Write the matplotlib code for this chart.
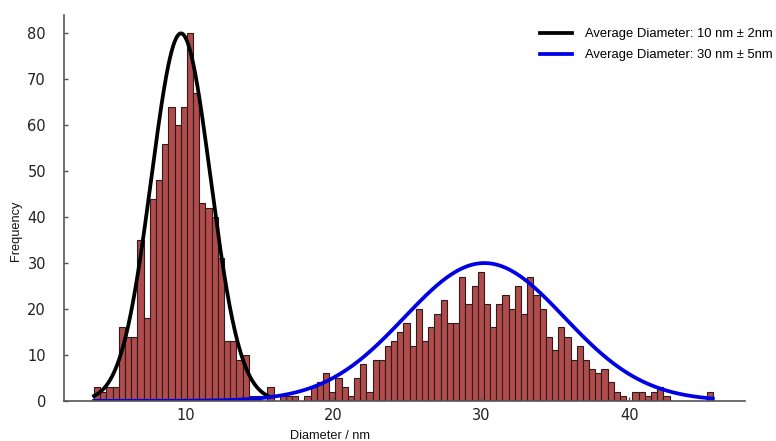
import numpy as np
import matplotlib
matplotlib.use("Agg")
import matplotlib.pyplot as plt

# histogram counts, 100 equal bins between the smallest and largest diameter
counts = [3, 2, 3, 3, 16, 14, 14, 35, 18, 44,
          48, 56, 64, 60, 64, 80, 67, 43, 42, 40,
          31, 13, 13, 9, 10, 1, 1, 0, 3, 0,
          1, 1, 1, 0, 1, 3, 4, 6, 2, 5,
          3, 1, 5, 8, 2, 9, 9, 12, 13, 15,
          17, 12, 20, 13, 16, 19, 22, 17, 17, 27,
          21, 25, 28, 21, 16, 21, 23, 20, 25, 19,
          27, 23, 20, 14, 11, 16, 14, 9, 12, 9,
          7, 6, 7, 4, 2, 1, 0, 2, 2, 1,
          2, 3, 1, 0, 0, 0, 0, 0, 0, 2]
d_min, d_max = 3.83, 45.63

# fitted gaussians: (mean, sigma, peak height)
small_fit = (9.7, 2.0, 80)
large_fit = (30.2, 5.4, 30)
labels = ["Average Diameter: 10 nm \u00b1 2nm", "Average Diameter: 30 nm \u00b1 5nm"]


def gauss(x, mu, sig, amp):
    return amp * np.exp(-(x - mu) ** 2 / (2 * sig ** 2))


edges = np.linspace(d_min, d_max, len(counts) + 1)
widths = np.diff(edges)

fig = plt.figure(figsize=(7.76, 4.41), dpi=100)
ax = fig.add_axes([0.0825, 0.091, 0.8775, 0.875])

ax.bar(edges[:-1], counts, width=widths, align="edge",
       color="#b04c4c", edgecolor="#2e1c1c", linewidth=0.8)

x1 = np.linspace(d_min, small_fit[0] + 3 * small_fit[1], 300)
x2 = np.linspace(d_min, d_max, 400)
ax.plot(x1, gauss(x1, *small_fit), color="black", lw=2.7, label=labels[0])
ax.plot(x2, gauss(x2, *large_fit), color="#0000e6", lw=2.7, label=labels[1])

ax.set_xlim(1.8, 47.8)
ax.set_ylim(0, 84)
ax.set_xticks([10, 20, 30, 40])
ax.set_yticks(range(0, 81, 10))

for side in ("top", "right"):
    ax.spines[side].set_visible(False)
for side in ("left", "bottom"):
    ax.spines[side].set_color("#555555")
    ax.spines[side].set_linewidth(1.2)
ax.tick_params(direction="in", colors="#555555", labelcolor="#222222",
               labelsize=10.5, length=3, width=1)
ax.tick_params(axis="y", pad=13)
ax.tick_params(axis="x", pad=5)

lab_font = dict(family="Liberation Sans", fontsize=9.2, color="#111111")
ax.set_xlabel("Diameter / nm", **lab_font)
ax.set_ylabel("Frequency", **lab_font)
ax.xaxis.set_label_coords(0.39, -0.075)
ax.yaxis.set_label_coords(-0.061, 0.44)

ax.legend(loc="upper left", frameon=False, borderpad=0, borderaxespad=0,
          handlelength=2.45, handletextpad=1.0, labelspacing=0.68,
          bbox_to_anchor=(540 / 776, 1 - 28 / 441), bbox_transform=fig.transFigure,
          prop={"family": "Liberation Sans", "size": 9.4})

fig.savefig("out.png", dpi=100)
